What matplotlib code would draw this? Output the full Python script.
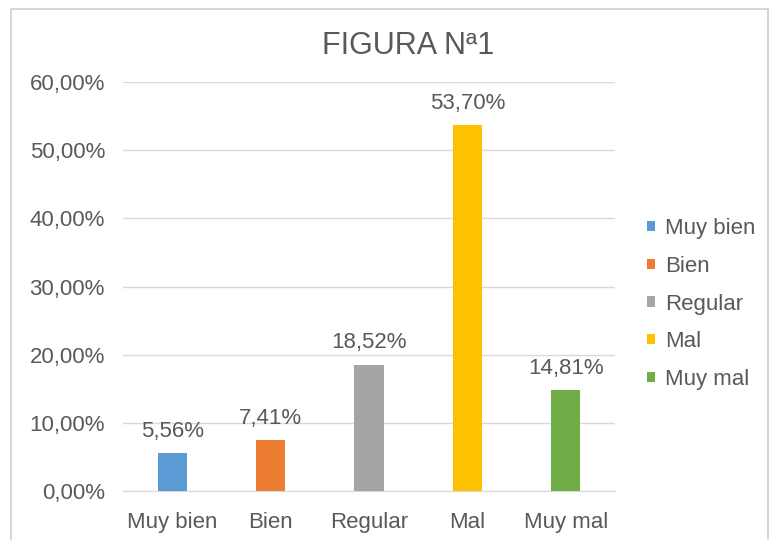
import matplotlib
matplotlib.use("Agg")
import matplotlib.pyplot as plt
from matplotlib.patches import Rectangle

categorias = ["Muy bien", "Bien", "Regular", "Mal", "Muy mal"]
valores = [5.56, 7.41, 18.52, 53.70, 14.81]
colores = ["#5B9BD5", "#ED7D31", "#A5A5A5", "#FFC000", "#70AD47"]
ticks_y = [0, 10, 20, 30, 40, 50, 60]

plt.rcParams['font.family'] = ['Liberation Sans', 'DejaVu Sans']
gris = "#595959"
fs = 16

fig = plt.figure(figsize=(7.71, 5.40), dpi=100)
ax = fig.add_axes([123 / 771, 1 - 491 / 540, (615 - 123) / 771, (491 - 82) / 540])

# marco del grafico
fig.patches.append(Rectangle((11 / 771, -0.01), (768 - 11) / 771, 1 - 9 / 540 + 0.01,
                             transform=fig.transFigure, fill=False,
                             edgecolor="#d0d0d0", linewidth=1.2))

x = range(len(categorias))
barras = ax.bar(x, valores, width=0.295, color=colores, label=categorias, zorder=3)
for xi, v in zip(x, valores):
    ax.text(xi, v + 3.2, f"{v:.2f}%".replace(".", ","), ha="center", va="center",
            fontsize=fs, color=gris)

ax.set_xlim(-0.5, len(categorias) - 0.5)
ax.set_ylim(0, 60)
ax.set_yticks(ticks_y)
ax.set_yticklabels([f"{t:.2f}%".replace(".", ",") for t in ticks_y])
ax.set_xticks(list(x))
ax.set_xticklabels(categorias)
ax.tick_params(axis="both", length=0, labelsize=fs, labelcolor=gris)
ax.tick_params(axis="y", pad=13)
ax.tick_params(axis="x", pad=15)
ax.yaxis.grid(True, color="#d9d9d9", linewidth=1, zorder=0)
for lado in ["top", "right", "left"]:
    ax.spines[lado].set_visible(False)
ax.spines["bottom"].set_color("#d9d9d9")

fig.text(408 / 771, 1 - 46 / 540, "FIGURA Nª1", ha="center", va="center",
         fontsize=22, color=gris)

ley = fig.legend(handles=barras, labels=categorias, loc="center left",
                 bbox_to_anchor=(647 / 771, 1 - 304 / 540), frameon=False,
                 borderaxespad=0, borderpad=0,
                 fontsize=fs, handlelength=0.35, handleheight=0.35,
                 handletextpad=0.45, labelspacing=0.75)
for t in ley.get_texts():
    t.set_color(gris)

fig.savefig("out.png", dpi=100)
